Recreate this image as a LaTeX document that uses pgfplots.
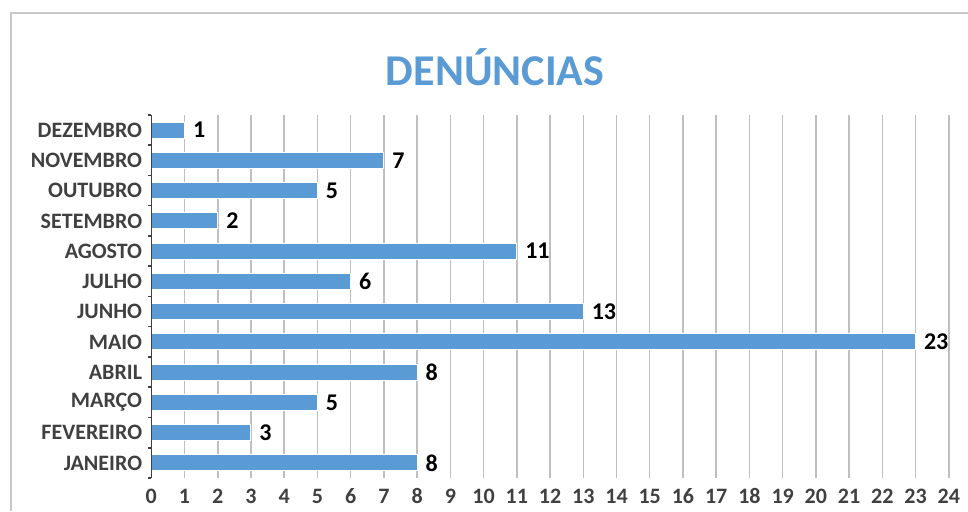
\documentclass[border=0pt]{standalone}
\usepackage{fontspec}
\setmainfont{Carlito}
\usepackage{pgfplots}
\pgfplotsset{compat=1.18}
\definecolor{barblue}{HTML}{5B9BD5}
\definecolor{txtgray}{HTML}{404040}
\definecolor{gridgray}{HTML}{BFBFBF}
\definecolor{bordergray}{HTML}{C8C8C8}
\begin{document}
\begin{tikzpicture}[x=1pt,y=1pt]
\path[use as bounding box] (0,0) rectangle (968,511);
\draw[color=bordergray, line width=2pt] (11,0) -- (11,497.5) -- (968,497.5);
\node[font=\fontsize{44}{50}\selectfont\bfseries, text=barblue] at (495,444) {DENÚNCIAS};
\begin{axis}[
  at={(151.3pt,33pt)}, anchor=south west,
  scale only axis, width=797.5pt, height=363pt,
  xbar, bar width=16pt,
  xmin=0, xmax=24, ymin=-0.5, ymax=11.5,
  xtick={0,...,24}, ytick={0,...,11},
  yticklabels={JANEIRO,FEVEREIRO,MARÇO,ABRIL,MAIO,JUNHO,JULHO,AGOSTO,SETEMBRO,OUTUBRO,NOVEMBRO,DEZEMBRO},
  xmajorgrids, major grid style={gridgray, line width=1.5pt},
  axis line style={draw=none},
  major tick length=0pt,
  minor ytick={-0.5,0.5,...,11.5},
  minor tick length=3pt, tick align=outside,
  minor tick style={txtgray, line width=1.5pt},
  ytick pos=left, xtick pos=bottom,
  yticklabel style={font=\fontsize{22}{24}\selectfont\bfseries, text=txtgray, anchor=east, inner sep=0pt, xshift=-9pt},
  xticklabel style={font=\fontsize{22}{24}\selectfont\bfseries, text=txtgray, anchor=north, inner sep=0pt, text height=14pt, text depth=0pt, yshift=-11pt},
  /pgf/number format/assume math mode=true,
  nodes near coords,
  nodes near coords style={font=\fontsize{24}{26}\selectfont\bfseries, text=black, anchor=west, inner sep=0pt, xshift=8pt},
  clip=false,
]
\addplot[fill=barblue, draw=white, line width=1pt] coordinates {
(8,0) (3,1) (5,2) (8,3) (23,4) (13,5) (6,6) (11,7) (2,8) (5,9) (7,10) (1,11)
};
\draw[txtgray, line width=1.5pt] (axis cs:0,-0.5) -- (axis cs:0,11.5);
\end{axis}
\end{tikzpicture}
\end{document}
